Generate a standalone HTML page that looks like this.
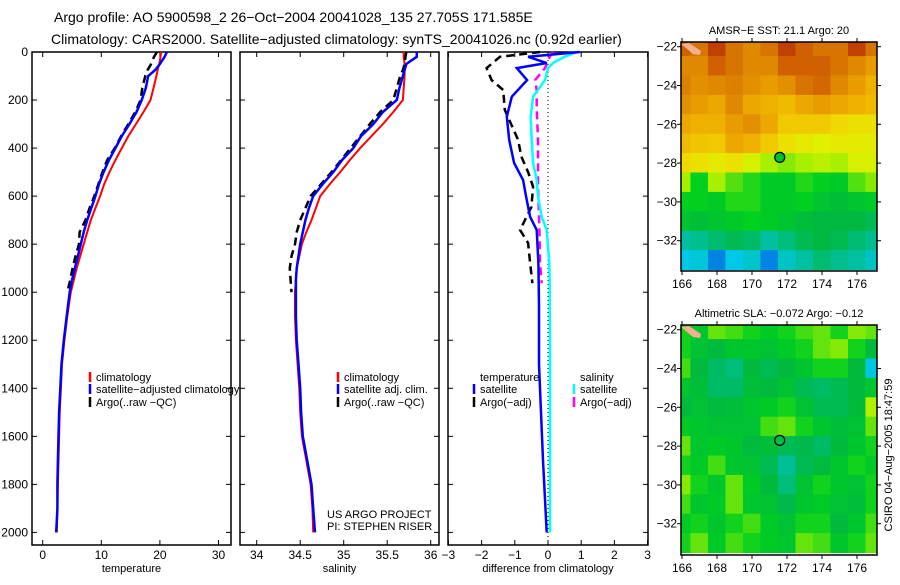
<!DOCTYPE html>
<html><head><meta charset="utf-8"><style>
body{margin:0;background:#fff;}
svg text{font-family:"Liberation Sans",sans-serif;fill:#000;}
</style></head><body>
<svg id="fig" width="900" height="580" xmlns="http://www.w3.org/2000/svg">
<text x="54" y="22" font-size="14">Argo profile: AO 5900598_2 26−Oct−2004 20041028_135 27.705S 171.585E</text>
<text x="51" y="44" font-size="14">Climatology: CARS2000. Satellite−adjusted climatology: synTS_20041026.nc (0.92d earlier)</text>
<text x="327" y="518" font-size="11">US ARGO PROJECT</text>
<text x="327" y="530" font-size="11">PI: STEPHEN RISER</text>
<text font-size="11" transform="translate(892,455) rotate(-90)" text-anchor="middle">CSIRO 04−Aug−2005 18:47:59</text>
<g id="g"></g>
</svg>
<script>
const depths=[0,20,50,75,100,150,200,250,300,350,400,450,500,550,600,650,700,750,800,850,900,950,1000,1100,1200,1300,1400,1500,1600,1700,1800,1900,2000];
const tempClim=[20.2,20.1,19.9,19.6,19.4,18.9,18.4,17.2,15.9,14.6,13.5,12.4,11.4,10.5,9.8,9.0,8.2,7.6,7.0,6.4,5.8,5.3,4.8,4.2,3.7,3.3,3.1,2.9,2.8,2.7,2.6,2.5,2.4];
const tempSat=[21.2,20.8,20.0,19.2,18.0,17.6,16.9,16.0,14.8,13.5,12.4,11.3,10.4,9.6,9.0,8.3,7.6,7.0,6.5,6.0,5.5,5.0,4.6,4.1,3.6,3.2,3.0,2.8,2.7,2.6,2.5,2.5,2.3];
const tempArgo=[19.5,19.0,18.5,17.9,17.5,17.0,16.7,15.8,14.6,13.4,12.3,11.0,10.2,9.5,8.8,8.0,7.3,6.3,6.2,5.6,5.1,4.7,4.2];
const salClim=[35.69,35.69,35.70,35.70,35.70,35.69,35.68,35.57,35.45,35.32,35.19,35.07,34.96,34.84,34.73,34.68,34.63,34.57,34.52,34.49,34.46,34.45,34.44,34.44,34.45,34.47,34.49,34.50,34.52,34.57,34.62,34.64,34.65];
const salSat=[35.84,35.84,35.72,35.70,35.68,35.64,35.61,35.45,35.34,35.20,35.11,34.98,34.88,34.76,34.65,34.60,34.56,34.53,34.50,34.48,34.46,34.45,34.45,34.45,34.46,34.48,34.50,34.51,34.53,34.58,34.63,34.65,34.67];
const salArgo=[35.72,35.71,35.70,35.68,35.65,35.61,35.57,35.42,35.30,35.19,35.08,34.97,34.86,34.74,34.62,34.56,34.50,34.46,34.44,34.40,34.38,34.39,34.40];
const diffDepths=[0,20,46,67,117,186,269,366,462,533,602,686,741,878,962,1062,1300,1700,2000];
const diffTempSat=[0.96,-0.6,-0.04,-0.94,-0.63,-1.09,-1.24,-1.17,-1.02,-0.75,-0.66,-0.54,-0.34,-0.29,-0.28,-0.27,-0.27,-0.15,-0.04];
const diffSalSat=[0.87,0.5,0.15,0.0,-0.09,-0.45,-0.52,-0.49,-0.45,-0.34,-0.3,-0.19,-0.04,0.04,0.05,0.05,0.06,0.06,0.06];
const argoDiffDepths=[0,20,67,117,158,241,304,366,436,500,561,645,741,795,878,962];
const diffTempArgo=[-0.24,-1.45,-1.85,-1.70,-1.35,-1.30,-1.10,-0.90,-0.80,-0.60,-0.45,-0.50,-0.84,-0.60,-0.54,-0.47];
const diffSalArgo=[0.15,0.05,-0.09,-0.39,-0.34,-0.34,-0.32,-0.30,-0.30,-0.30,-0.30,-0.28,-0.26,-0.25,-0.24,-0.19];
const depthTicks=[0,200,400,600,800,1000,1200,1400,1600,1800,2000];
const tempTicks=[0,10,20,30];
const salTicks=[34,34.5,35,35.5,36];
const diffTicks=[-3,-2,-1,0,1,2,3];
const lonTicks=[166,168,170,172,174,176];
const latTicks=[-22,-24,-26,-28,-30,-32];
const mapLons=[166,167,168,169,170,171,172,173,174,175,176,177];
const mapLats=[-22,-23,-24,-25,-26,-27,-28,-29,-30,-31,-32,-33];
const sstGrid=[
[0.9,0.85,0.95,0.85,0.8,0.85,0.95,0.9,0.85,0.85,0.95,0.85],
[0.8,0.8,0.9,0.85,0.8,0.8,0.9,0.9,0.9,0.85,0.8,0.75],
[0.82,0.78,0.8,0.82,0.78,0.75,0.78,0.85,0.88,0.8,0.75,0.7],
[0.78,0.75,0.72,0.8,0.72,0.7,0.68,0.72,0.75,0.72,0.7,0.68],
[0.72,0.7,0.7,0.75,0.78,0.72,0.65,0.65,0.65,0.62,0.6,0.6],
[0.68,0.66,0.65,0.72,0.7,0.65,0.6,0.58,0.56,0.58,0.58,0.57],
[0.62,0.6,0.58,0.6,0.55,0.5,0.48,0.5,0.52,0.5,0.55,0.55],
[0.5,0.4,0.5,0.45,0.42,0.38,0.38,0.42,0.4,0.38,0.45,0.48],
[0.4,0.4,0.38,0.42,0.42,0.38,0.38,0.4,0.35,0.33,0.35,0.38],
[0.35,0.33,0.35,0.38,0.4,0.38,0.35,0.32,0.3,0.3,0.3,0.28],
[0.2,0.22,0.25,0.28,0.26,0.2,0.24,0.28,0.3,0.28,0.25,0.22],
[0.1,0.12,0.05,0.1,0.14,0.05,0.15,0.2,0.25,0.22,0.2,0.15]];
const slaGrid=[
[0.41,0.36,0.46,0.44,0.41,0.38,0.41,0.44,0.46,0.41,0.48,0.46],
[0.41,0.34,0.31,0.36,0.36,0.34,0.38,0.41,0.46,0.48,0.41,0.31],
[0.44,0.31,0.26,0.24,0.31,0.28,0.31,0.36,0.41,0.41,0.31,0.11],
[0.36,0.32,0.26,0.26,0.32,0.31,0.34,0.28,0.26,0.28,0.31,0.36],
[0.31,0.34,0.31,0.32,0.36,0.38,0.41,0.34,0.28,0.28,0.31,0.51],
[0.38,0.36,0.34,0.34,0.34,0.44,0.46,0.41,0.36,0.32,0.34,0.46],
[0.46,0.36,0.38,0.36,0.31,0.32,0.28,0.29,0.26,0.31,0.36,0.41],
[0.41,0.38,0.44,0.36,0.34,0.28,0.21,0.28,0.31,0.36,0.41,0.38],
[0.48,0.41,0.36,0.46,0.38,0.31,0.24,0.34,0.41,0.36,0.34,0.41],
[0.44,0.36,0.38,0.46,0.36,0.34,0.29,0.36,0.38,0.34,0.32,0.41],
[0.38,0.41,0.36,0.41,0.44,0.38,0.34,0.41,0.41,0.31,0.36,0.44],
[0.41,0.46,0.38,0.44,0.41,0.38,0.36,0.46,0.44,0.36,0.41,0.46]];
const argoLon=171.585, argoLat=-27.705;

const NS="http://www.w3.org/2000/svg";
const G=document.getElementById('g');
function mk(tag,attrs,parent){const e=document.createElementNS(NS,tag);for(const k in attrs)e.setAttribute(k,attrs[k]);(parent||G).appendChild(e);return e;}
const TOP=52,BOT=545;
const yD=d=>52+d*0.2402;

function panel(name,x0,x1,xs,ticks,fmt,label){
  const g=mk('g',{});
  
  
  const r=mk('rect',{x:x0,y:TOP,width:x1-x0,height:BOT-TOP,fill:'none',stroke:'#000','stroke-width':1.5},g);
  
  
  ticks.forEach(t=>{const x=xs(t);
    mk('line',{x1:x,x2:x,y1:TOP,y2:TOP+5,stroke:'#000'},g);
    mk('line',{x1:x,x2:x,y1:BOT,y2:BOT-5,stroke:'#000'},g);
    const tx=mk('text',{x:x,y:BOT+14,'font-size':12,'text-anchor':'middle'},g);tx.textContent=fmt(t);
    
    });
  depthTicks.forEach(d=>{const y=yD(d);
    mk('line',{x1:x0,x2:x0+5,y1:y,y2:y,stroke:'#000'},g);
    mk('line',{x1:x1,x2:x1-5,y1:y,y2:y,stroke:'#000'},g);});
  const lb=mk('text',{x:(x0+x1)/2,y:572,'font-size':11,'text-anchor':'middle'},g);lb.textContent=label;
  
  
  return g;
}
function line(g,xs,ds,vals,color,w,dash,name){
  const pts=vals.map((v,i)=>xs(v).toFixed(1)+','+yD(ds[i]).toFixed(1)).join(' ');
  const p=mk('polyline',{points:pts,fill:'none',stroke:color,'stroke-width':w},g);
  if(dash)p.setAttribute('stroke-dasharray',dash);
  
  
}
function legend(g,x,y,color,txt){
  if(color)mk('line',{x1:x,x2:x,y1:y-9,y2:y+1,stroke:color,'stroke-width':2.5},g);
  const t=mk('text',{x:x+6,y:y,'font-size':11},g);t.textContent=txt;
  
  
}
depthTicks.forEach(d=>{const t=mk('text',{x:28,y:yD(d)+4,'font-size':12,'text-anchor':'end'});t.textContent=d;
  
  });

const xT=v=>42.7+v*5.86;
const g1=panel('temperature-panel',32,231,xT,tempTicks,String,'temperature');
line(g1,xT,depths,tempClim,'#f00',2,null,'temperature-climatology-line');
line(g1,xT,depths,tempArgo,'#000',2.5,'8,5','temperature-argo-line');
line(g1,xT,depths,tempSat,'#00f',2.5,null,'temperature-satellite-line');
legend(g1,90,381,'#f00','climatology');legend(g1,90,393,'#00f','satellite−adjusted climatology');legend(g1,90,406,'#000','Argo(..raw −QC)');

const xS=v=>256.7+(v-34)*87;
const g2=panel('salinity-panel',240,439,xS,salTicks,String,'salinity');
line(g2,xS,depths,salClim,'#f00',2,null,'salinity-climatology-line');
line(g2,xS,depths,salArgo,'#000',2.5,'8,5','salinity-argo-line');
line(g2,xS,depths,salSat,'#00f',2.5,null,'salinity-satellite-line');
legend(g2,338,381,'#f00','climatology');legend(g2,338,393,'#00f','satellite adj. clim.');legend(g2,338,406,'#000','Argo(..raw −QC)');

const xDf=v=>548+v*33.2;
const g3=panel('difference-panel',448,648,xDf,diffTicks,t=>t<0?'−'+(-t):String(t),'difference from climatology');
mk('line',{x1:xDf(0),x2:xDf(0),y1:TOP,y2:BOT,stroke:'#000','stroke-dasharray':'1,3'},g3);
line(g3,xDf,argoDiffDepths,diffTempArgo,'#000',2.5,'8,5','temperature-argo-diff-line');
line(g3,xDf,argoDiffDepths,diffSalArgo,'#f0f',2.5,'8,5','salinity-argo-diff-line');
line(g3,xDf,diffDepths,diffSalSat,'#0ff',2.5,null,'salinity-satellite-diff-line');
line(g3,xDf,diffDepths,diffTempSat,'#00f',2.5,null,'temperature-satellite-diff-line');
legend(g3,474,381,null,'temperature');legend(g3,474,393,'#00f','satellite');legend(g3,474,406,'#000','Argo(−adj)');
legend(g3,574,381,null,'salinity');legend(g3,574,393,'#0ff','satellite');legend(g3,574,406,'#f0f','Argo(−adj)');

const stops=[[0,[0,64,224]],[0.1,[0,200,232]],[0.2,[0,192,160]],[0.3,[0,184,64]],[0.4,[0,208,32]],[0.5,[168,240,0]],[0.56,[224,240,0]],[0.62,[240,216,0]],[0.7,[240,176,0]],[0.8,[224,136,0]],[0.9,[208,96,0]],[1,[176,32,0]]];
function cmap(v){for(let i=1;i<stops.length;i++){if(v<=stops[i][0]){const a=stops[i-1],b=stops[i],f=(v-a[0])/(b[0]-a[0]);return 'rgb('+a[1].map((c,j)=>Math.round(c+(b[1][j]-c)*f)).join(',')+')';}}return 'rgb(176,32,0)';}
function map(name,top,bot,grid,title,fillDot){
  const L=681,R=877;
  const xs=lon=>682+(lon-166)*17.5;
  const lat22=top+4.7;
  const ys=lat=>lat22+(-22-lat)*19.4;
  const g=mk('g',{});
  
  
  const cid=name+'-clip';
  const cp=mk('clipPath',{id:cid},g);mk('rect',{x:L,y:top,width:R-L,height:bot-top},cp);
  const cells=mk('g',{'clip-path':'url(#'+cid+')'},g);
  grid.forEach((row,i)=>row.forEach((v,j)=>{
    const c=mk('rect',{x:xs(mapLons[j]-0.5)-0.3,y:ys(mapLats[i]+0.5)-0.3,width:17.5+0.6,height:19.4+0.6,fill:cmap(v)},cells);
    
    
  }));
  mk('polygon',{points:(L)+','+(top+2)+' '+(L+8)+','+(top+1)+' '+(L+20)+','+(top+9)+' '+(L+19)+','+(top+13)+' '+(L+12)+','+(top+12)},cells).setAttribute('fill','#f4b090');
  mk('rect',{x:L,y:top,width:R-L,height:bot-top,fill:'none',stroke:'#000','stroke-width':1.5},g);
  lonTicks.forEach(l=>{const x=xs(l);mk('line',{x1:x,x2:x,y1:top,y2:top-4,stroke:'#000'},g);mk('line',{x1:x,x2:x,y1:bot,y2:bot+4,stroke:'#000'},g);
    const t=mk('text',{x:x,y:bot+17,'font-size':12,'text-anchor':'middle'},g);t.textContent=l;
    
    });
  latTicks.forEach(l=>{const y=ys(l);mk('line',{x1:L,x2:L-4,y1:y,y2:y,stroke:'#000'},g);mk('line',{x1:R,x2:R+4,y1:y,y2:y,stroke:'#000'},g);
    const t=mk('text',{x:L-4,y:y+4,'font-size':12,'text-anchor':'end'},g);t.textContent='−'+(-l);
    
    });
  const tt=mk('text',{x:(L+R)/2,y:top-8,'font-size':11,'text-anchor':'middle'},g);tt.textContent=title;
  
  
  const c=mk('circle',{cx:xs(argoLon),cy:ys(argoLat),r:5,fill:fillDot,stroke:'#000','stroke-width':1.2},g);
  
  
}
map('sst-map',42,271,sstGrid,'AMSR−E SST: 21.1 Argo: 20','#00c030');
map('sla-map',325,555,slaGrid,'Altimetric SLA: −0.072 Argo: −0.12','none');
</script>
</body></html>
